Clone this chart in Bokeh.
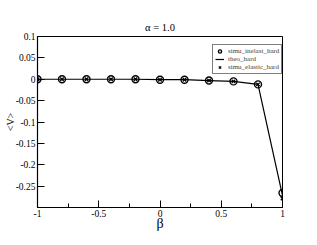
from bokeh.plotting import figure
from bokeh.models import (Legend, LegendItem, FixedTicker, CustomJSTickFormatter, Range1d)
from bokeh.embed import file_html
from bokeh.resources import INLINE

beta = [-1.0, -0.8, -0.6, -0.4, -0.2, 0.0, 0.2, 0.4, 0.6, 0.8, 1.0]
simu_inelast_hard = [0.0, 0.0, 0.0, 0.0, 0.0, -0.001, -0.001, -0.003, -0.005, -0.012, -0.266]
theo_hard = [0.0, 0.0, 0.0, 0.0, 0.0, -0.001, -0.001, -0.003, -0.005, -0.012, -0.272]
simu_elastic_hard = [0.0, 0.0, 0.0, 0.0, 0.0, -0.001, -0.001, -0.003, -0.005, -0.012, -0.279]

x_ticks = [-1.0, -0.5, 0.0, 0.5, 1.0]
x_minor = [-0.75, -0.25, 0.25, 0.75]
y_ticks = [0.1, 0.05, 0.0, -0.05, -0.1, -0.15, -0.2, -0.25]

title_text = "\u03b1 = 1.0"
x_label = "\u03b2"
y_label = "<V>"

FONT = "Liberation Serif"

p = figure(frame_width=245, frame_height=171, min_border_left=37, min_border_top=36,
           min_border_right=27, min_border_bottom=30, output_backend="svg",
           toolbar_location=None, x_range=Range1d(-1, 1), y_range=Range1d(-0.3, 0.1),
           title=title_text)
p.title.text_font = FONT
p.title.text_font_size = "10.5px"
p.title.text_font_style = "normal"
p.title.align = "center"
p.title.vertical_align = "middle"
p.title.standoff = 6
p.title.text_color = "black"

p.xgrid.visible = False
p.ygrid.visible = False
p.outline_line_color = "black"
p.outline_line_width = 1
p.background_fill_color = "white"
p.border_fill_color = "white"

fmt = CustomJSTickFormatter(code="var v = Math.round(tick*100)/100; return v.toString();")
for ax, ticks, minor in ((p.xaxis[0], x_ticks, x_minor), (p.yaxis[0], y_ticks, [])):
    ax.ticker = FixedTicker(ticks=ticks, minor_ticks=minor)
    ax.formatter = fmt
    ax.major_tick_in = 7
    ax.major_tick_out = 0
    ax.minor_tick_in = 4
    ax.minor_tick_out = 0
    ax.axis_line_color = "black"
    ax.axis_line_width = 1.2
    ax.major_tick_line_color = "black"
    ax.minor_tick_line_color = "black"
    ax.major_label_text_font = FONT
    ax.major_label_text_font_size = "9.5px"
    ax.major_label_text_color = "black"
    ax.axis_label_text_font = FONT
    ax.axis_label_text_font_style = "normal"
    ax.axis_label_text_color = "black"
p.xaxis.major_label_standoff = 2
p.yaxis.major_label_standoff = 2
p.xaxis.axis_label = x_label
p.xaxis.axis_label_text_font_size = "14px"
p.xaxis.axis_label_standoff = -4
p.yaxis.axis_label = y_label
p.yaxis.axis_label_text_font_size = "10px"
p.yaxis.axis_label_standoff = -3

r_line = p.line(beta, theo_hard, line_color="black", line_width=1.2)
r_circ = p.scatter(beta, simu_inelast_hard, marker="circle", size=7, fill_color=None,
                   line_color="black", line_width=1.4)
r_x = p.scatter(beta, simu_elastic_hard, marker="x", size=5, line_color="black", line_width=1.3)

legend = Legend(items=[LegendItem(label="simu_inelast_hard", renderers=[r_circ]),
                       LegendItem(label="theo_hard", renderers=[r_line]),
                       LegendItem(label="simu_elastic_hard", renderers=[r_x])],
                location=(175, 133))
legend.label_text_font = FONT
legend.label_text_font_size = "7px"
legend.label_height = 8
legend.glyph_height = 8
legend.glyph_width = 9
legend.label_standoff = 4
legend.spacing = 0
legend.padding = 2
legend.margin = 0
legend.border_line_color = "black"
legend.border_line_width = 1
legend.background_fill_alpha = 1
p.add_layout(legend, "center")

open("out.html", "w").write(file_html(p, INLINE))
